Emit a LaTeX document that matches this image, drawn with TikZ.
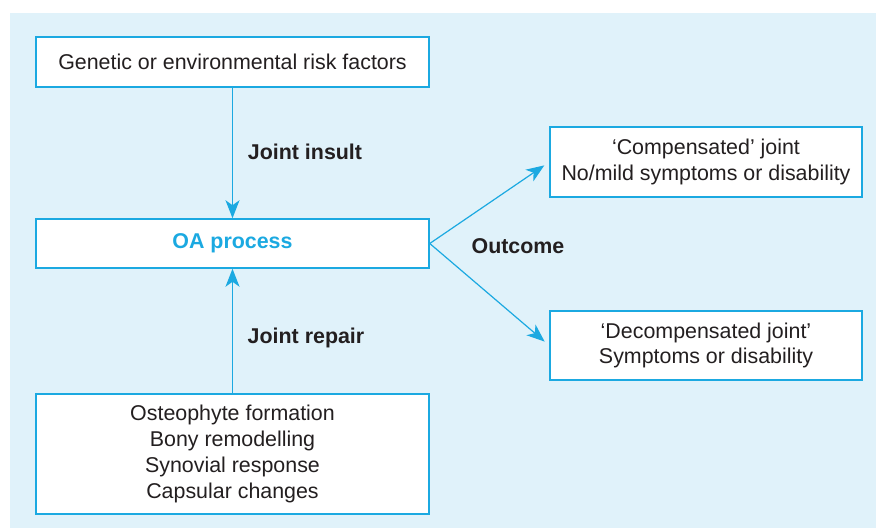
\documentclass[tikz,border=0pt]{standalone}
\usepackage{fontspec}
\setmainfont{Liberation Sans}
\usepackage{xcolor}
\usetikzlibrary{arrows.meta, positioning}
\definecolor{oacyan}{HTML}{1BA9E1}
\definecolor{oabg}{HTML}{E0F2FA}
\definecolor{oatext}{HTML}{231F20}
\newcommand{\oablue}[1]{\textcolor{oacyan}{#1}}
\tikzset{
  box/.style={draw=oacyan, line width=0.75pt, fill=white, align=center, text=oatext,
    font=\fontsize{10.7}{12.9}\selectfont, inner sep=0pt},
  flow/.style={draw=oacyan, line width=0.6pt, -{Stealth[length=9pt, width=7pt, inset=2.5pt]}},
  tag/.style={font=\fontsize{10.7}{13}\selectfont\bfseries, text=oatext}
}

\begin{document}
\begin{tikzpicture}[x=0.5pt, y=-0.5pt]
                        \useasboundingbox (0,0) rectangle (876,528);
                        \fill[oabg] (10,13) rectangle (876,528);

                        \node[box, minimum width=196.5pt, minimum height=25pt] (risk) at (232.5, 62) {Genetic or environmental risk factors};
                        \node[box, minimum width=196.5pt, minimum height=24.5pt] (oa) at (232.5, 243.5) {\bfseries\oablue{OA process}};
                        \node[box, minimum width=196.5pt, minimum height=60pt] (repair) at (232.5, 454) {Osteophyte formation\\Bony remodelling\\Synovial response\\Capsular changes};
                        \node[box, minimum width=156pt, minimum height=35pt] (comp) at (706, 162) {`Compensated' joint\\No/mild symptoms or disability};
                        \node[box, minimum width=156pt, minimum height=34.5pt] (decomp) at (706, 345.5) {`Decompensated joint'\\Symptoms or disability};

                        \node[tag] (insult) at (305, 152) {Joint insult};
                        \node[tag] (mend) at (306, 338) {Joint repair};
                        \node[tag] (outcome) at (518, 246) {Outcome};

                        \draw[flow] (risk.south) -- (oa.north);
                        \draw[flow] (repair.north) -- (oa.south);
                        \draw[flow, shorten >=3pt] (oa.east) -- (comp.west);
                        \draw[flow, shorten >=3pt] (oa.east) -- (decomp.west);
                    \end{tikzpicture}
\end{document}
